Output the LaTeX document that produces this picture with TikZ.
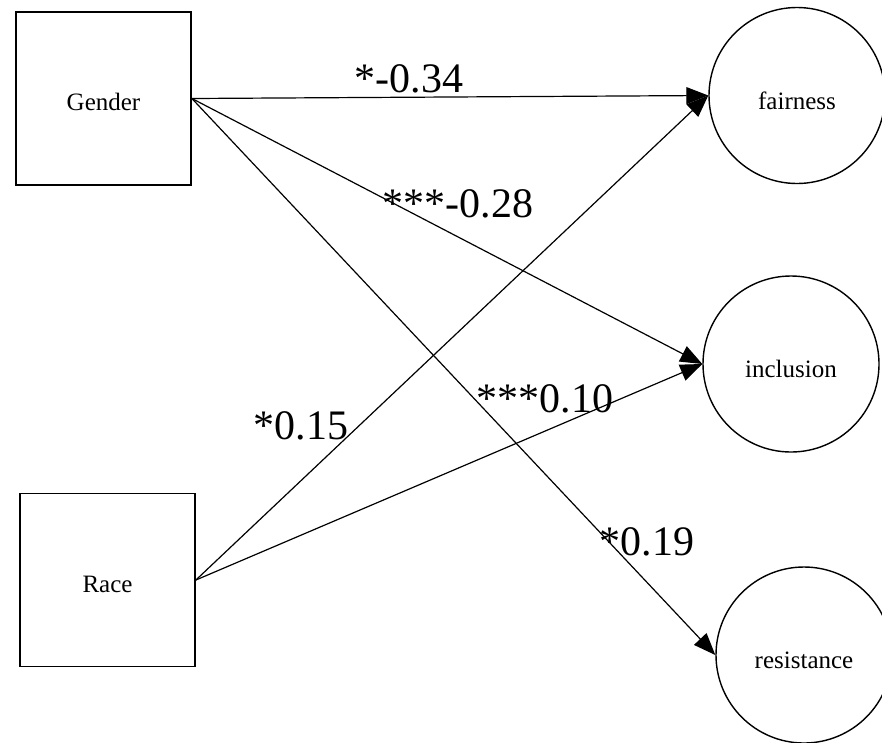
\documentclass[tikz,border=0pt]{standalone}
\usepackage{fontspec}
\setmainfont{Liberation Serif}
\usetikzlibrary{arrows.meta}
\tikzset{
  obsbox/.style={draw=black, line width=1.8pt, minimum width=175pt, minimum height=173pt, inner sep=0pt, text height=24pt, text depth=0pt, font=\fontsize{25}{30}\selectfont},
  latent/.style={draw=black, circle, line width=1.4pt, minimum size=176pt, inner sep=0pt, text height=27pt, text depth=0pt, font=\fontsize{25}{30}\selectfont},
  path/.style={draw=black, line width=1.2pt, -{Triangle[length=22pt,width=17pt]}},
  coef/.style={anchor=base, inner sep=0pt, font=\fontsize{42}{48}\selectfont}
}
\begin{document}
\begin{tikzpicture}[x=1pt,y=-1pt]
\useasboundingbox (0,0) rectangle (882,742);
\node[obsbox] (gender) at (103.5,98.5) {Gender};
\node[obsbox] (race) at (107.5,580) {Race};
\node[latent] (fair) at (797,95.5) {fairness};
\node[latent] (incl) at (791,364) {inclusion};
\node[latent] (resi) at (804,655) {resistance};
\draw[path] (gender.east) -- (fair.west);
\draw[path] (gender.east) -- (incl.west);
\draw[path] (gender.east) -- (resi.west);
\draw[path] (race.east) -- (fair.west);
\draw[path] (race.east) -- (incl.west);
\node[coef] (c1) at (409,92) {*-0.34};
\node[coef] (c2) at (458,217) {***-0.28};
\node[coef] (c3) at (301,439) {*0.15};
\node[coef] (c4) at (545,412) {***0.10};
\node[coef] (c5) at (647,555) {*0.19};
\end{tikzpicture}
\end{document}
